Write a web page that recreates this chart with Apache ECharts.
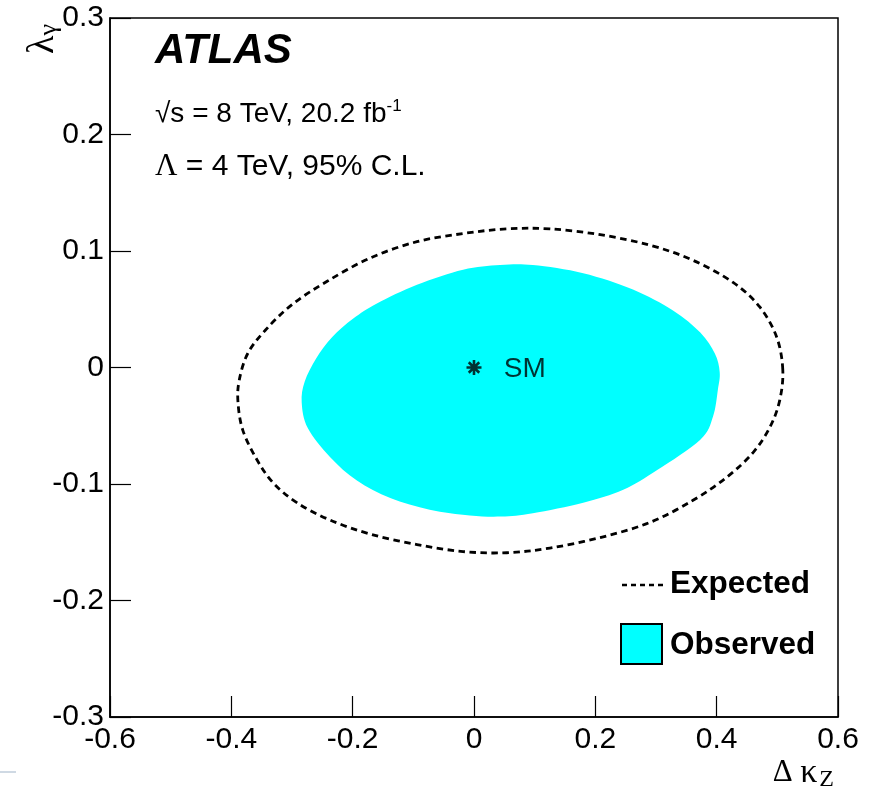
<!DOCTYPE html>
<html>
<head>
<meta charset="utf-8">
<script src="https://cdn.jsdelivr.net/npm/echarts@6/dist/echarts.min.js"></script>
<style>
  html, body { margin: 0; padding: 0; background: #fff; }
  #chart { width: 873px; height: 798px; }
</style>
</head>
<body>
<div id="chart"></div>
<script>
// Axis ranges and ticks
const xRange = [-0.6, 0.6];
const yRange = [-0.3, 0.3];
const xStep = 0.2;
const yStep = 0.1;

// Expected 95% C.L. contour (Δκ_Z, λ_γ), closed loop
const expX = [0.509, 0.499, 0.471, 0.427, 0.361, 0.290, 0.208, 0.125, 0.054, -0.018, -0.094, -0.171, -0.242, -0.300, -0.344, -0.373, -0.387, -0.389, -0.381, -0.358, -0.331, -0.292, -0.237, -0.171, -0.094, -0.018, 0.054, 0.125, 0.208, 0.290, 0.361, 0.417, 0.460, 0.488, 0.504];
const expY = [-0.002, 0.026, 0.052, 0.073, 0.092, 0.105, 0.114, 0.119, 0.119, 0.115, 0.108, 0.094, 0.074, 0.054, 0.032, 0.012, -0.011, -0.030, -0.054, -0.079, -0.099, -0.116, -0.131, -0.143, -0.152, -0.158, -0.159, -0.155, -0.146, -0.133, -0.114, -0.094, -0.073, -0.051, -0.028];

// Observed 95% C.L. contour, closed loop
const obsX = [0.405, 0.397, 0.373, 0.328, 0.262, 0.180, 0.097, 0.043, -0.018, -0.094, -0.160, -0.199, -0.234, -0.260, -0.279, -0.284, -0.274, -0.237, -0.193, -0.138, -0.073, -0.007, 0.045, 0.097, 0.180, 0.246, 0.302, 0.373, 0.394, 0.402];
const obsY = [-0.004, 0.012, 0.030, 0.049, 0.067, 0.081, 0.088, 0.088, 0.084, 0.071, 0.055, 0.042, 0.026, 0.008, -0.012, -0.030, -0.052, -0.077, -0.097, -0.112, -0.122, -0.127, -0.128, -0.125, -0.116, -0.105, -0.088, -0.062, -0.042, -0.019];

// Standard Model point
const smPoint = [0, 0];
const smLabel = 'SM';

const SANS = '"Liberation Sans", Arial, Helvetica, sans-serif';
const SERIF = '"Liberation Serif", "Times New Roman", serif';

const chart = echarts.init(document.getElementById('chart'), null, { renderer: 'canvas' });

// Closed Catmull-Rom curve through the contour points, in pixel space
function closedSplinePath(pts) {
  const n = pts.length;
  const f = (v) => v.toFixed(2);
  let d = 'M' + f(pts[0][0]) + ',' + f(pts[0][1]);
  for (let i = 0; i < n; i++) {
    const p0 = pts[(i - 1 + n) % n], p1 = pts[i], p2 = pts[(i + 1) % n], p3 = pts[(i + 2) % n];
    const c1 = [p1[0] + (p2[0] - p0[0]) / 6, p1[1] + (p2[1] - p0[1]) / 6];
    const c2 = [p2[0] - (p3[0] - p1[0]) / 6, p2[1] - (p3[1] - p1[1]) / 6];
    d += 'C' + f(c1[0]) + ',' + f(c1[1]) + ' ' + f(c2[0]) + ',' + f(c2[1]) + ' ' + f(p2[0]) + ',' + f(p2[1]);
  }
  return d + 'Z';
}

function contour(xs, ys, style) {
  return function (params, api) {
    if (params.dataIndex !== 0) return null;
    const pts = xs.map((x, i) => api.coord([x, ys[i]]));
    return {
      type: 'path',
      shape: { pathData: closedSplinePath(pts) },
      style: style
    };
  };
}

const axisCommon = {
  type: 'value',
  axisLine: { show: true, onZero: false, lineStyle: { color: '#000', width: 1.5 } },
  axisTick: { show: true, inside: true, length: 21, lineStyle: { color: '#000', width: 1.2 } },
  splitLine: { show: false },
  axisLabel: { color: '#000', fontFamily: SANS, fontSize: 30 }
};

chart.setOption({
  animation: false,
  backgroundColor: '#fff',
  grid: {
    left: 110, top: 18, width: 728, height: 699,
    show: true, borderColor: '#000', borderWidth: 1.5, backgroundColor: 'transparent'
  },
  xAxis: Object.assign({}, axisCommon, {
    min: xRange[0], max: xRange[1], interval: xStep,
    axisLabel: Object.assign({}, axisCommon.axisLabel, { margin: 8 })
  }),
  yAxis: Object.assign({}, axisCommon, {
    min: yRange[0], max: yRange[1], interval: yStep,
    axisLabel: Object.assign({}, axisCommon.axisLabel, { margin: 6 })
  }),
  series: [
    {
      type: 'custom',
      name: 'Observed',
      data: [[obsX[0], obsY[0]]],
      renderItem: contour(obsX, obsY, { fill: '#00ffff', stroke: null }),
      z: 2,
      silent: true
    },
    {
      type: 'custom',
      name: 'Expected',
      data: [[expX[0], expY[0]]],
      renderItem: contour(expX, expY, { fill: null, stroke: '#000', lineWidth: 2.8, lineDash: [6.5, 4.5] }),
      z: 3,
      silent: true
    },
    {
      type: 'scatter',
      name: smLabel,
      data: [smPoint],
      symbol: 'path://M0,-10L0,10M-10,0L10,0M-7,-7L7,7M-7,7L7,-7',
      symbolSize: 15,
      itemStyle: { color: 'transparent', borderColor: '#000', borderWidth: 2.6 },
      label: {
        show: true, position: 'right', distance: 21, formatter: smLabel,
        color: '#000', fontFamily: SANS, fontSize: 28, offset: [0, 2]
      },
      z: 4,
      silent: true
    }
  ],
  graphic: [
    {
      type: 'text', left: 155, top: 30,
      style: { text: 'ATLAS', fill: '#000', font: 'italic bold 42px ' + SANS }
    },
    {
      type: 'text', x: 155, y: 114,
      style: {
        text: '√s = 8 TeV, 20.2 fb{sup|-1}',
        fill: '#000', font: '28px ' + SANS, verticalAlign: 'middle',
        rich: { sup: { fontSize: 17, fontFamily: SANS, verticalAlign: 'top', padding: [0, 0, 15, 0] } }
      }
    },
    {
      type: 'text', x: 155, y: 167,
      style: {
        text: '{g|Λ} = 4 TeV, 95% C.L.',
        fill: '#000', font: '30px ' + SANS, verticalAlign: 'middle',
        rich: { g: { fontSize: 31, fontFamily: SERIF } }
      }
    },
    // legend
    {
      type: 'line', shape: { x1: 622, y1: 585, x2: 664, y2: 585 },
      style: { stroke: '#000', lineWidth: 2.6, lineDash: [5, 4] }
    },
    {
      type: 'text', x: 670, y: 584,
      style: { text: 'Expected', fill: '#000', font: 'bold 31.5px ' + SANS, verticalAlign: 'middle' }
    },
    {
      type: 'rect', shape: { x: 621, y: 624, width: 41, height: 40 },
      style: { fill: '#00ffff', stroke: '#000', lineWidth: 2 }
    },
    {
      type: 'text', x: 670, y: 645,
      style: { text: 'Observed', fill: '#000', font: 'bold 31.5px ' + SANS, verticalAlign: 'middle' }
    },
    // axis titles
    {
      type: 'text', x: 834, y: 792,
      style: {
        text: '{d|Δ} {k|κ}{s|Z}', fill: '#000', font: '30px ' + SERIF,
        align: 'right', verticalAlign: 'bottom',
        rich: {
          d: { fontSize: 31, fontFamily: SERIF },
          k: { fontSize: 34, fontFamily: SERIF },
          s: { fontSize: 24, fontFamily: SERIF, padding: [14, 0, 0, 2] }
        }
      }
    },
    {
      type: 'text', x: 43, y: 54, rotation: Math.PI / 2,
      style: {
        text: '{l|λ}{s|γ}', fill: '#000', font: '36px ' + SERIF,
        align: 'left', verticalAlign: 'middle',
        rich: {
          l: { fontSize: 38, fontFamily: SERIF },
          s: { fontSize: 26, fontFamily: SERIF, padding: [12, 0, 0, 0] }
        }
      }
    },
    {
      type: 'line', shape: { x1: 0, y1: 772, x2: 16, y2: 772 },
      style: { stroke: '#9fb3c8', lineWidth: 1 }
    }
  ]
});
</script>
</body>
</html>
